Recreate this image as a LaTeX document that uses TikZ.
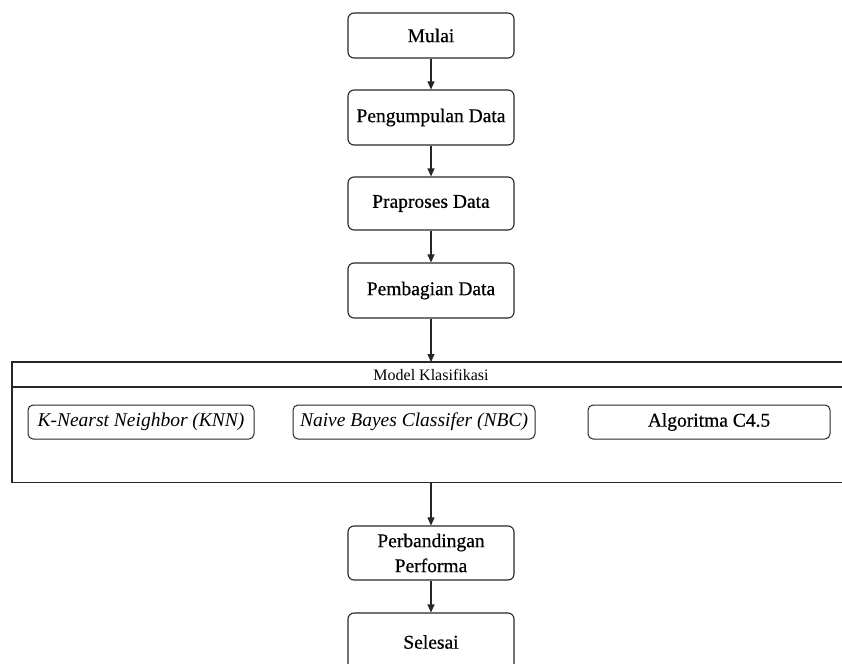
\documentclass[tikz,border=0pt]{standalone}
\usepackage{fontspec}
\setmainfont{Liberation Serif}
\newfontfamily\boxfont{Liberation Serif}[FakeBold=0.6]
\usetikzlibrary{arrows.meta}
\begin{document}
\begin{tikzpicture}[x=1pt,y=-1pt,
  line/.style={draw=black!85, line width=1.1pt},
  box/.style={line, rounded corners=6pt, minimum width=166pt, align=center,
    inner sep=0pt, font=\boxfont\fontsize{19.5}{25}\selectfont, text=black},
  algbox/.style={line, line width=1pt, rounded corners=5pt, minimum height=34pt,
    inner sep=0pt, font=\fontsize{19.5}{24}\selectfont, text=black},
  arr/.style={line, -{Triangle[length=8pt,width=7pt]}}]
\useasboundingbox (0,0) rectangle (842,663);
\begin{scope}
\clip (0,0) rectangle (842,663);
\node[box, minimum height=45pt] (mulai) at (431,35.5) {Mulai};
\node[box, minimum height=55pt] (kumpul) at (431,117.5) {Pengumpulan Data};
\node[box, minimum height=53pt] (pra) at (431,203.5) {Praproses Data};
\node[box, minimum height=55pt] (bagi) at (431,290.5) {Pembagian Data};
\node[minimum width=840pt, minimum height=120pt, inner sep=0pt, anchor=north west] (model) at (12,362) {};
\draw[line] (model.north east) -- (model.north west) -- (model.south west) -- (model.south east);
\draw[line] ([yshift=-25pt]model.north west) -- ([yshift=-25pt]model.north east);
\node[font=\fontsize{16}{18}\selectfont, text=black] (mk) at (431,375) {Model Klasifikasi};
\node[algbox, minimum width=226pt] (knn) at (141,422) {\itshape K-Nearst Neighbor (KNN)};
\node[algbox, minimum width=242pt] (nbc) at (414,422) {\itshape Naive Bayes Classifer (NBC)};
\node[algbox, minimum width=242pt, font=\boxfont\fontsize{19.5}{24}\selectfont] (c45) at (709,422) {Algoritma C4.5};
\node[box, minimum height=54pt] (banding) at (431,553) {Perbandingan\\Performa};
\node[box, minimum height=58pt] (selesai) at (431,642) {Selesai};
\draw[arr] (mulai) -- (kumpul);
\draw[arr] (kumpul) -- (pra);
\draw[arr] (pra) -- (bagi);
\draw[arr] (bagi.south) -- (bagi.south |- model.north);
\draw[arr] (banding.north |- model.south) -- (banding.north);
\draw[arr] (banding) -- (selesai);
\end{scope}
\end{tikzpicture}
\end{document}
